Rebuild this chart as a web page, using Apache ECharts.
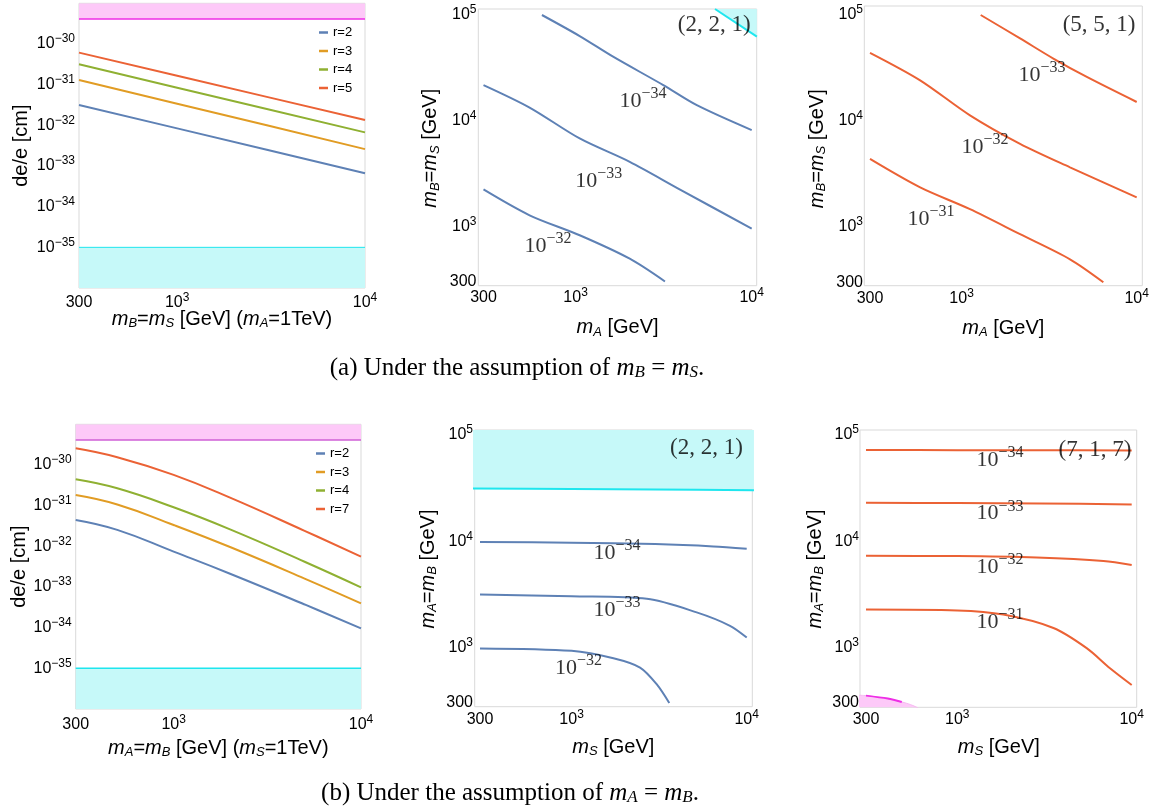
<!DOCTYPE html>
<html><head><meta charset="utf-8">
<script src="https://cdn.jsdelivr.net/npm/echarts@6/dist/echarts.min.js"></script>
<style>html,body{margin:0;padding:0;background:#fff}#c{width:1162px;height:810px}</style>
</head><body><div id="c"></div>
<script>
// ---------------- DATA ----------------
// (a) left panel: de/e vs mB=mS (mA = 1 TeV)
const massA = [300, 1000, 3000, 10000];
const aLeft_r2 = [3.16e-32, 8.4e-33, 2.5e-33, 6.6e-34];
const aLeft_r3 = [1.30e-31, 3.4e-32, 1.0e-32, 2.6e-33];
const aLeft_r4 = [3.16e-31, 8.4e-32, 2.52e-32, 6.7e-33];
const aLeft_r5 = [6.12e-31, 1.65e-31, 5.0e-32, 1.35e-32];
// (b) left panel: de/e vs mA=mB (mS = 1 TeV)
const massB = [300, 500, 1000, 2000, 5000, 10000];
const bLeft_r2 = [4.45e-32, 2.54e-32, 7.4e-33, 2.12e-33, 3.72e-34, 9.6e-35];
const bLeft_r3 = [1.83e-31, 1.07e-31, 3.35e-32, 9.6e-33, 1.61e-33, 3.96e-34];
const bLeft_r4 = [4.45e-31, 2.67e-31, 9.1e-32, 2.61e-32, 4.18e-33, 9.8e-34];
const bLeft_r7 = [2.57e-30, 1.55e-30, 5.7e-31, 1.57e-31, 2.40e-32, 5.6e-33];
const edmLimit = 4.1e-30;     // current bound (magenta)
const edmFuture = 1e-35;      // future reach (cyan)
const edmAxisMin = 1e-36, edmAxisMax = 1e-29;

// (a) middle: (2,2,1) contours in (mA, mB=mS)
const a221_c34 = [[644,1e5],[1055,63200],[1633,40300],[3148,21700],[4880,14000],[10000,8130]];
const a221_c33 = [[300,21700],[548,13300],[1055,6780],[2030,4070],[3920,2225],[10000,950]];
const a221_c32 = [[300,2230],[548,1270],[1055,822],[2030,493],[3217,300]];
const a221_excl = [[6190,114000],[10700,62400]];
const a221_labels = [[2415,15300,'\u221234'],[1352,2680,'\u221233'],[697,649,'\u221232']];
// (a) right: (5,5,1)
const a551_c33 = [[1286,1e5],[2158,60100],[3343,38800],[5190,26000],[10000,15100]];
const a551_c32 = [[300,44000],[580,24200],[1117,11300],[2158,6080],[4160,3650],[10000,1900]];
const a551_c31 = [[300,4380],[580,2360],[1117,1470],[2158,853],[4160,494],[6450,300]];
const a551_labels = [[2880,27100,'\u221233'],[1361,5670,'\u221232'],[669,1185,'\u221231']];
// (b) middle: (2,2,1) contours in (mS, mA=mB)
const b221_c34 = [[300,9820],[1000,9700],[3000,9400],[6450,8940],[10000,8490]];
const b221_c33 = [[300,3150],[1000,3030],[2690,2870],[5180,2140],[8030,1600],[10000,1240]];
const b221_c32 = [[300,980],[1000,930],[1734,792],[2460,647],[3060,451],[3614,300]];
const b221_excl = [[270,31300],[1000,31000],[3000,30700],[11000,30200]];
const b221_labels = [[1817,7740,'\u221234'],[1817,2250,'\u221233'],[1096,640,'\u221232']];
// (b) right: (7,1,7)
const b717_c34 = [[300,72100],[1000,72000],[3000,71800],[10000,71500]];
const b717_c33 = [[300,23000],[1000,22900],[3000,22700],[10000,22200]];
const b717_c32 = [[300,7290],[1000,7250],[2850,7030],[6890,6530],[10000,5980]];
const b717_c31 = [[300,2275],[1000,2230],[1837,2040],[3560,1525],[5520,985],[7510,637],[10000,443]];
const b717_excl = [[270,355],[300,352],[400,330],[481,307],[540,290],[596,270]];
const b717_exclEdge = [[300,352],[400,330],[481,307]];
const b717_labels = [[1758,57900,'\u221234'],[1758,18200,'\u221233'],[1758,5730,'\u221232'],[1758,1726,'\u221231']];
// panel tags
const tagText = ['(2, 2, 1)', '(5, 5, 1)', '(2, 2, 1)', '(7, 1, 7)'];
const tagPos = [[6120,80400],[6100,80500],[5897,75400],[6155,72100]];

// ---------------- STYLE / LAYOUT ----------------
const SANS = "'Liberation Sans', Arial, sans-serif";
const SERIF = "'Liberation Serif', 'DejaVu Serif', serif";
const C = {blue:'#5e81b5', orange:'#e19c24', green:'#8fb032', red:'#eb6235',
  pinkFill:'#fdc9f8', magenta:'#ee2ee6', cyanFill:'#c6f9f9', cyan:'#1ee6ee', frame:'#d9d9d9'};

const X0=300, X1=1e4, Y0=300, Y1=1e5;
const gP1 = {left:79, top:3.3, width:286, height:284.7};
const gP4 = {left:75.7, top:424.3, width:285.3, height:284.7};
const fP2 = {left:478.3, top:9, width:278.4, height:276.7};
const fP3 = {left:864.3, top:6, width:278, height:279.7};
const fP5 = {left:474.7, top:430, width:277.6, height:276.7};
const fP6 = {left:860, top:430, width:276.7, height:277.3};
const oP2 = {left:483.5, top:15, width:268.2, height:266.5};
const oP3 = {left:870, top:15, width:266.7, height:267.3};
const oP5 = {left:480, top:435, width:266.7, height:268};
const oP6 = {left:866, top:435, width:265.7, height:268};

function padRange(f, o){
  const xd = o.width/Math.log10(X1/X0), yd = o.height/Math.log10(Y1/Y0);
  return {xmin: X0*Math.pow(10,-(o.left-f.left)/xd), xmax: X1*Math.pow(10,(f.left+f.width-o.left-o.width)/xd),
          ymin: Y0*Math.pow(10,-(f.top+f.height-o.top-o.height)/yd), ymax: Y1*Math.pow(10,(o.top-f.top)/yd)};
}

const tickRich = {
  b:{fontFamily:SANS, fontSize:16, color:'#000', verticalAlign:'middle'},
  s:{fontFamily:SANS, fontSize:12, color:'#000', padding:[0,0,10,0], verticalAlign:'middle'}
};
const nameRich = {
  i:{fontFamily:SANS, fontSize:20, fontStyle:'italic', color:'#000', verticalAlign:'middle'},
  sub:{fontFamily:SANS, fontSize:13, fontStyle:'italic', color:'#000', padding:[9,0,0,0], verticalAlign:'middle'},
  n:{fontFamily:SANS, fontSize:20, color:'#000', verticalAlign:'middle'}
};
const expRich = {
  b:{fontFamily:SERIF, fontSize:22, color:'#000', verticalAlign:'middle'},
  s:{fontFamily:SERIF, fontSize:16, color:'#000', padding:[0,0,14,0], verticalAlign:'middle'}
};
function makeFmt(lo, hi){
  return function(v){
    if (Math.abs(v-300) < 1) return '{b|300}{s|\u200b}';
    const n = Math.round(Math.log10(v));
    if (n < lo || n > hi) return '{b|\u200b}';
    return '{b|10}{s|' + (n<0 ? '\u2212'+(-n) : String(n)) + '}';
  };
}
function hiddenAxis(i, min, max){
  return {type:'log', gridIndex:i, min, max, axisLine:{show:false}, axisTick:{show:false},
          axisLabel:{show:false}, splitLine:{show:false}, splitArea:{show:false}};
}
function shownAxis(i, min, max, name, gap, margin, lo, hi){
  return {type:'log', gridIndex:i, min, max, name, nameLocation:'middle', nameGap:gap, nameMoveOverlap:false,
    nameTextStyle:{fontFamily:SANS, fontSize:20, color:'#000', rich:nameRich},
    axisLine:{show:false}, axisTick:{show:false}, splitLine:{show:false},
    axisLabel:{show:true, margin, formatter:makeFmt(lo, hi), rich:tickRich,
      showMinLabel:true, showMaxLabel:true, hideOverlap:false}};
}
function line(ai, data, color, width, name, smooth, z){
  const s = {type:'line', xAxisIndex:ai, yAxisIndex:ai, data, symbol:'none', showSymbol:false,
    smooth: smooth === undefined ? 0.3 : smooth, lineStyle:{color, width}, itemStyle:{color},
    silent:true, animation:false, z: z||3};
  if (name) s.name = name;
  return s;
}
function band(ai, data, fill, stroke, sw, origin){
  return {type:'line', xAxisIndex:ai, yAxisIndex:ai, data, symbol:'none', showSymbol:false, smooth:0.3,
    lineStyle:{color:stroke, width:sw}, areaStyle:{color:fill, opacity:1, origin}, silent:true, animation:false, z:1};
}
// horizontal band between two de/e values across the full mass range, drawn through the axes
function rectBand(ai, yA, yB, fill){
  return {type:'custom', xAxisIndex:ai, yAxisIndex:ai, silent:true, animation:false, z:1, clip:true,
    data:[[X0, yA, X1, yB]], encode:{x:[0,2], y:[1,3]},
    renderItem:(params, api)=>{
      const a = api.coord([api.value(0), api.value(1)]);
      const b = api.coord([api.value(2), api.value(3)]);
      return {type:'rect', shape:{x:Math.min(a[0],b[0]), y:Math.min(a[1],b[1]),
        width:Math.abs(b[0]-a[0]), height:Math.abs(b[1]-a[1])}, style:{fill}};
    }};
}
function expLabels(ai, items){
  return {type:'scatter', xAxisIndex:ai, yAxisIndex:ai, symbolSize:1, itemStyle:{color:'rgba(0,0,0,0)'},
    silent:true, animation:false, z:6,
    label:{show:true, position:'inside', formatter:p=>'{b|10}{s|'+p.data.exp+'}', rich:expRich},
    data: items.map(d=>({value:[d[0],d[1]], exp:d[2]}))};
}
function tag(ai, k){
  return {type:'scatter', xAxisIndex:ai, yAxisIndex:ai, symbolSize:1, itemStyle:{color:'rgba(0,0,0,0)'},
    silent:true, animation:false, z:6,
    label:{show:true, position:'inside', formatter:tagText[k], fontFamily:SERIF, fontSize:23, color:'#000'},
    data:[tagPos[k]]};
}
const zip = (xs, ys) => xs.map((x,i)=>[x, ys[i]]);

const r2 = padRange(fP2,oP2), r3 = padRange(fP3,oP3), r5 = padRange(fP5,oP5), r6 = padRange(fP6,oP6);
const frameStyle = {show:true, borderColor:C.frame, borderWidth:1, backgroundColor:'rgba(0,0,0,0)'};

const grids = [gP1, gP4, fP2, fP3, fP5, fP6, oP2, oP3, oP5, oP6].map((g,i)=>
  Object.assign({containLabel:false, outerBoundsMode:'none'}, g, i<6 ? frameStyle : {show:false}));

const nm = {
  a1x:'{i|m}{sub|B}{n|=}{i|m}{sub|S}{n| [GeV] (}{i|m}{sub|A}{n|=1TeV)}',
  b1x:'{i|m}{sub|A}{n|=}{i|m}{sub|B}{n| [GeV] (}{i|m}{sub|S}{n|=1TeV)}',
  aY:'{i|m}{sub|B}{n|=}{i|m}{sub|S}{n| [GeV]}',
  bY:'{i|m}{sub|A}{n|=}{i|m}{sub|B}{n| [GeV]}',
  aX:'{i|m}{sub|A}{n| [GeV]}',
  bX:'{i|m}{sub|S}{n| [GeV]}',
  edm:'{n|de/e [cm]}'
};
const ALL = [-99, 99];
const xAxis = [
  shownAxis(0, X0, X1, nm.a1x, 20, 4, ...ALL),
  shownAxis(1, X0, X1, nm.b1x, 28, 5, ...ALL),
  hiddenAxis(2, r2.xmin, r2.xmax), hiddenAxis(3, r3.xmin, r3.xmax),
  hiddenAxis(4, r5.xmin, r5.xmax), hiddenAxis(5, r6.xmin, r6.xmax),
  shownAxis(6, X0, X1, nm.aX, 35, 5, ...ALL), shownAxis(7, X0, X1, nm.aX, 35, 5, ...ALL),
  shownAxis(8, X0, X1, nm.bX, 33, 6, ...ALL), shownAxis(9, X0, X1, nm.bX, 33, 6, ...ALL)
];
const yAxis = [
  shownAxis(0, edmAxisMin, edmAxisMax, nm.edm, 48, 4, -35, -30),
  shownAxis(1, edmAxisMin, edmAxisMax, nm.edm, 46, 4, -35, -30),
  hiddenAxis(2, r2.ymin, r2.ymax), hiddenAxis(3, r3.ymin, r3.ymax),
  hiddenAxis(4, r5.ymin, r5.ymax), hiddenAxis(5, r6.ymin, r6.ymax),
  shownAxis(6, Y0, Y1, nm.aY, 42, 7, ...ALL), shownAxis(7, Y0, Y1, nm.aY, 42, 7, ...ALL),
  shownAxis(8, Y0, Y1, nm.bY, 41, 7, ...ALL), shownAxis(9, Y0, Y1, nm.bY, 40, 7, ...ALL)
];

const series = [
  rectBand(0, edmLimit, edmAxisMax, C.pinkFill),
  rectBand(0, edmAxisMin, edmFuture, C.cyanFill),
  line(0, [[X0,edmLimit],[X1,edmLimit]], C.magenta, 1.5, null, false, 2),
  line(0, [[X0,edmFuture],[X1,edmFuture]], C.cyan, 1, null, false, 2),
  line(0, zip(massA, aLeft_r2), C.blue, 2, 'r=2', false),
  line(0, zip(massA, aLeft_r3), C.orange, 2, 'r=3', false),
  line(0, zip(massA, aLeft_r4), C.green, 2, 'r=4', false),
  line(0, zip(massA, aLeft_r5), C.red, 2, 'r=5', false),
  rectBand(1, edmLimit, edmAxisMax, C.pinkFill),
  rectBand(1, edmAxisMin, edmFuture, C.cyanFill),
  line(1, [[X0,edmLimit],[X1,edmLimit]], '#cf5fd6', 1.5, null, false, 2),
  line(1, [[X0,edmFuture],[X1,edmFuture]], C.cyan, 1.5, null, false, 2),
  line(1, zip(massB, bLeft_r2), C.blue, 2, 'r=2', 0.45),
  line(1, zip(massB, bLeft_r3), C.orange, 2, 'r=3', 0.45),
  line(1, zip(massB, bLeft_r4), C.green, 2, 'r=4', 0.45),
  line(1, zip(massB, bLeft_r7), C.red, 2, 'r=7', 0.45),
  band(2, a221_excl, C.cyanFill, C.cyan, 2, 'end'),
  line(2, a221_c34, C.blue, 2), line(2, a221_c33, C.blue, 2), line(2, a221_c32, C.blue, 2),
  expLabels(2, a221_labels), tag(2, 0),
  line(3, a551_c33, C.red, 2), line(3, a551_c32, C.red, 2), line(3, a551_c31, C.red, 2),
  expLabels(3, a551_labels), tag(3, 1),
  band(4, b221_excl, C.cyanFill, C.cyan, 2, 'end'),
  line(4, b221_c34, C.blue, 2), line(4, b221_c33, C.blue, 2), line(4, b221_c32, C.blue, 2),
  expLabels(4, b221_labels), tag(4, 2),
  band(5, b717_excl, C.pinkFill, '#f5b8f0', 1, 'start'),
  line(5, b717_exclEdge, C.magenta, 2, null, 0.3, 2),
  line(5, b717_c34, C.red, 2), line(5, b717_c33, C.red, 2), line(5, b717_c32, C.red, 2), line(5, b717_c31, C.red, 2),
  expLabels(5, b717_labels), tag(5, 3)
];

const legendBase = {orient:'vertical', icon:'rect', itemWidth:9, itemHeight:2.5, itemGap:5.5,
  textStyle:{fontFamily:SANS, fontSize:13, color:'#000'}, selectedMode:false, padding:0};

const capRich = {
  i:{fontFamily:SERIF, fontSize:25, fontStyle:'italic', fill:'#000'},
  s:{fontFamily:SERIF, fontSize:17, fontStyle:'italic', fill:'#000', padding:[10,0,0,0]}
};

const option = {
  backgroundColor:'#fff', animation:false,
  grid: grids, xAxis, yAxis, series,
  legend:[
    Object.assign({}, legendBase, {left:319, top:26, data:['r=2','r=3','r=4','r=5']}),
    Object.assign({}, legendBase, {left:316, top:447, data:['r=2','r=3','r=4','r=7']})
  ],
  graphic:[
    {type:'text', x:517, y:368, style:{text:'(a) Under the assumption of {i|m}{s|B} = {i|m}{s|S}.',
      fontFamily:SERIF, fontSize:25, fill:'#000', align:'center', verticalAlign:'middle', rich:capRich}},
    {type:'text', x:510, y:793, style:{text:'(b) Under the assumption of {i|m}{s|A} = {i|m}{s|B}.',
      fontFamily:SERIF, fontSize:25, fill:'#000', align:'center', verticalAlign:'middle', rich:capRich}}
  ]
};
const chart = echarts.init(document.getElementById('c'), null, {renderer:'canvas'});
chart.setOption(option);
</script></body></html>
